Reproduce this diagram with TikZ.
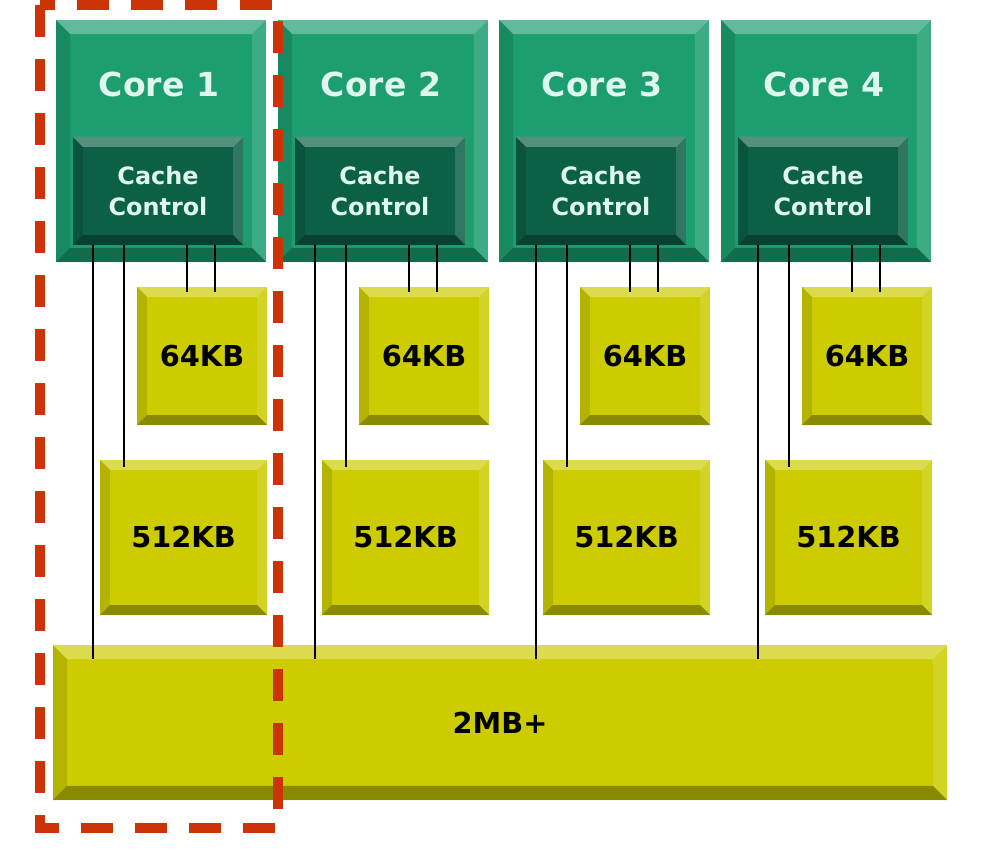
\documentclass[tikz,border=0pt]{standalone}
\usepackage{fontspec}
\setsansfont{DejaVu Sans}
\usepackage{tikz}
\usepackage{xcolor}

\definecolor{coregreen}{RGB}{28,158,112}
\definecolor{ccgreen}{RGB}{12,96,70}
\definecolor{memyellow}{RGB}{204,204,0}
\definecolor{titlemint}{RGB}{222,248,236}
\definecolor{dashred}{RGB}{204,52,8}

\tikzset{
  bevel/.style={path picture={
    \path (path picture bounding box.north west) coordinate (bnw)
          (path picture bounding box.north east) coordinate (bne)
          (path picture bounding box.south west) coordinate (bsw)
          (path picture bounding box.south east) coordinate (bse);
    \fill[white,opacity=.3] (bnw) -- (bne) -- ([shift={(-#1,-#1)}]bne) -- ([shift={(#1,-#1)}]bnw) -- cycle;
    \fill[white,opacity=.15] (bne) -- (bse) -- ([shift={(-#1,#1)}]bse) -- ([shift={(-#1,-#1)}]bne) -- cycle;
    \fill[black,opacity=.32] (bse) -- (bsw) -- ([shift={(#1,#1)}]bsw) -- ([shift={(-#1,#1)}]bse) -- cycle;
    \fill[black,opacity=.12] (bsw) -- (bnw) -- ([shift={(#1,-#1)}]bnw) -- ([shift={(#1,#1)}]bsw) -- cycle;
  }},
  bevel/.default=7pt,
  core/.style={rectangle,fill=coregreen,inner sep=0pt,minimum width=5.25cm,minimum height=6.05cm,bevel=10pt},
  cachectl/.style={rectangle,fill=ccgreen,inner sep=0pt,minimum width=4.25cm,minimum height=2.7cm,bevel=7pt,
    text=titlemint,align=center,font=\sffamily\bfseries\fontsize{17}{22}\selectfont},
  title/.style={text=titlemint,font=\sffamily\bfseries\fontsize{23.5}{28}\selectfont},
  mem/.style={rectangle,fill=memyellow,inner sep=0pt,bevel=7pt,font=\sffamily\bfseries\fontsize{20.5}{24}\selectfont},
  wire/.style={line width=1.2pt,black},
  reddash/.style={dashred,line width=7pt,dash pattern=on 0.8cm off 0.55cm}
}

\begin{document}
\begin{tikzpicture}[x=0.025cm,y=-0.025cm]
\useasboundingbox[fill=white] (0,0) rectangle (994,852);

\node[mem,minimum width=22.35cm,minimum height=3.875cm,bevel=10pt] (l3) at (500,722.5) {2MB+};

\foreach \i in {1,...,4} {
  \pgfmathsetmacro\x{round(56+221.7*(\i-1))}
  \node[core] (core\i) at (\x+105,141) {};
  \node[title] (title\i) at (\x+103,84) {Core \i};
  \node[cachectl] (cc\i) at (\x+102,191) {Cache\\Control};
  \node[mem,minimum width=3.25cm,minimum height=3.45cm] (l1\i) at (\x+146,356) {64KB};
  \node[mem,minimum width=4.175cm,minimum height=3.875cm] (l2\i) at (\x+127.5,537.5) {512KB};
  \coordinate (wa\i) at (\x+37,0);
  \coordinate (wb\i) at (\x+68,0);
  \coordinate (wc\i) at (\x+131,0);
  \coordinate (wd\i) at (\x+159,0);
  \draw[wire,shorten >=-10pt] (cc\i.south -| wa\i) -- (l3.north -| wa\i);
  \draw[wire,shorten >=-5pt] (cc\i.south -| wb\i) -- (l2\i.north -| wb\i);
  \draw[wire,shorten >=-4pt] (cc\i.south -| wc\i) -- (l1\i.north -| wc\i);
  \draw[wire,shorten >=-4pt] (cc\i.south -| wd\i) -- (l1\i.north -| wd\i);
}

\draw[reddash] (40,5) rectangle (278,828);
\end{tikzpicture}
\end{document}
